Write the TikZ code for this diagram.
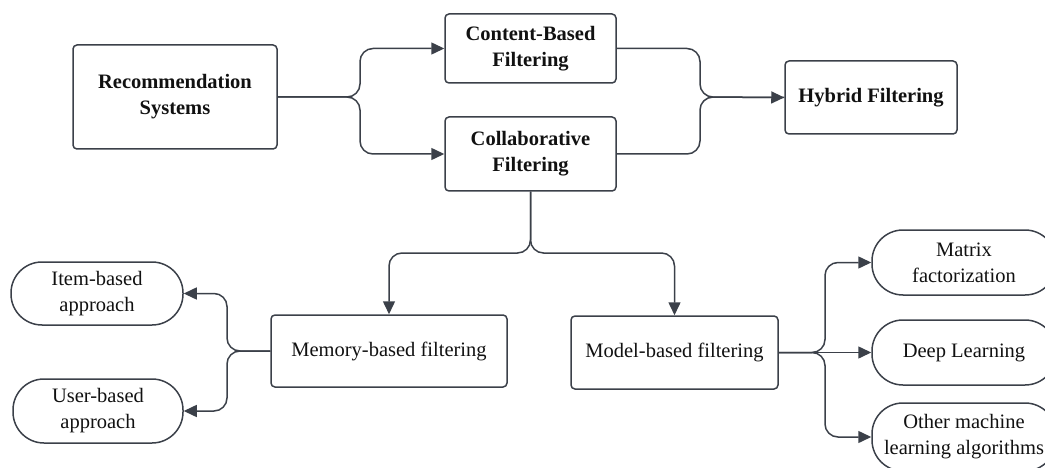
\documentclass[tikz,border=0pt]{standalone}
\usepackage{fontspec}
\setmainfont{Liberation Serif}
\usetikzlibrary{arrows.meta}
\definecolor{lc}{HTML}{3B4049}
\definecolor{tc}{HTML}{111111}
\begin{document}
\begin{tikzpicture}[x=1pt,y=-1pt,
  box/.style={draw=lc,line width=1.5pt,rounded corners=4pt,inner sep=0pt,align=center,text=tc,
    font=\fontsize{20.5}{26}\selectfont},
  bbox/.style={box,font=\fontsize{20.5}{26}\selectfont\bfseries},
  pill/.style={box,rounded corners=31pt},
  line/.style={draw=lc,line width=1.5pt,rounded corners=13pt},
  conn/.style={line,-{Triangle[length=13pt,width=12pt]}}]
\useasboundingbox (0,0) rectangle (1045,468);
\node[bbox,minimum width=204pt,minimum height=104pt] (rec) at (175,97) {Recommendation\\Systems};
\node[bbox,minimum width=171pt,minimum height=69pt] (content) at (530.5,48.5) {Content-Based\\Filtering};
\node[bbox,minimum width=171pt,minimum height=74pt] (collab) at (530.5,154) {Collaborative\\Filtering};
\node[bbox,minimum width=172pt,minimum height=73pt] (hybrid) at (871,97.5) {Hybrid Filtering};
\node[box,minimum width=236pt,minimum height=72pt] (memory) at (389,351) {Memory-based filtering};
\node[box,minimum width=207pt,minimum height=73pt] (model) at (674.5,352.5) {Model-based filtering};
\node[pill,minimum width=172pt,minimum height=63pt] (item) at (97,293.5) {Item-based\\approach};
\node[pill,minimum width=170pt,minimum height=64pt] (user) at (98,411) {User-based\\approach};
\node[pill,minimum width=184pt,minimum height=65pt] (matrix) at (964,262.5) {Matrix\\factorization};
\node[pill,minimum width=184pt,minimum height=65pt] (deep) at (964,352.5) {Deep Learning};
\node[pill,minimum width=184pt,minimum height=68pt] (other) at (964,437) {Other machine\\learning algorithms};
\coordinate (rj) at (360,97);
\coordinate (hj) at (700,97);
\coordinate (tj) at (530.5,253);
\coordinate (mj) at (227,351);
\coordinate (dj) at (825,352.5);
\draw[conn] (rec.east) -- (rj) |- (content.west);
\draw[conn] (rec.east) -- (rj) |- (collab.west);
\draw[conn] (content.east) -| (hj) -- (hybrid.west);
\draw[line] (collab.east) -| (hj) -- (hybrid.west);
\draw[conn] (collab.south) -- (tj) -| (memory.north);
\draw[conn] (collab.south) -- (tj) -| (model.north);
\draw[conn] (memory.west) -- (mj) |- (item.east);
\draw[conn] (memory.west) -- (mj) |- (user.east);
\draw[conn] (model.east) -- (dj) |- (matrix.west);
\draw[conn] (model.east) -- (deep.west);
\draw[conn] (model.east) -- (dj) |- (other.west);
\end{tikzpicture}
\end{document}
